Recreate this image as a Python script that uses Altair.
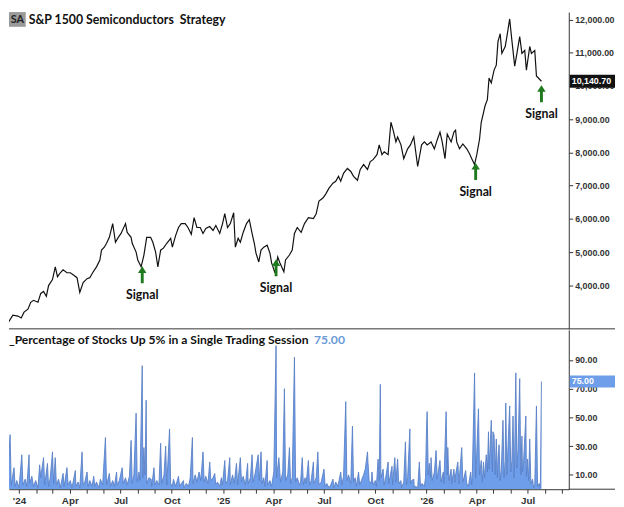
import altair as alt
import pandas as pd

# ---------------- data (days counted from 2024-01-01) ----------------
price_day = [-32, -23, -11, -2, 4, 9, 16, 21, 26, 34, 39, 44, 49, 53, 60, 65, 69, 74, 79, 86,
             92, 97, 104, 109, 115, 122, 127, 132, 139, 145, 148, 153, 157, 162, 168, 173, 178, 183, 191, 194,
             201, 203, 210, 213, 219, 224, 229, 236, 240, 245, 249, 254, 259, 265, 272, 275, 281, 286, 291, 298,
             303, 309, 314, 319, 325, 330, 335, 342, 348, 353, 360, 365, 369, 374, 379, 385, 388, 393, 397, 402,
             408, 413, 418, 422, 425, 430, 434, 439, 445, 450, 453, 459, 464, 468, 475, 478, 485, 490, 494, 499,
             506, 512, 519, 528, 533, 538, 545, 550, 556, 563, 568, 573, 577, 582, 589, 595, 600, 607, 612, 618,
             625, 630, 635, 642, 646, 651, 655, 662, 667, 671, 676, 679, 685, 690, 697, 702, 708, 715, 722, 727,
             732, 739, 745, 750, 755, 759, 764, 768, 775, 780, 783, 785, 790, 796, 803, 808, 812, 817, 821, 826,
             829, 836, 840, 843, 847, 852, 856, 859, 863, 866, 872, 875, 880, 884, 889, 893, 898, 902, 907, 910,
             916, 919, 925, 928, 937]
price_val = [2843, 2784, 3109, 3080, 3021, 3198, 3287, 3494, 3553, 3494, 3760, 3819, 3672, 3997, 4175, 4559, 4263, 4382, 4470, 4382,
             4382, 4322, 4234, 3790, 4086, 4204, 4234, 4382, 4559, 4766, 5062, 5151, 5269, 5447, 5861, 5299, 5447, 5565, 5861, 5595,
             5447, 5269, 5003, 4766, 4559, 4915, 5447, 5447, 5299, 5003, 4559, 5062, 5121, 5269, 5417, 5151, 5506, 5743, 5861, 5861,
             5743, 5536, 6039, 5743, 5743, 5565, 5713, 5772, 5654, 5802, 5565, 5861, 6157, 5743, 5861, 6186, 5151, 5417, 5299, 5595,
             5861, 5979, 5565, 5269, 4973, 4707, 5062, 5151, 5210, 4973, 4677, 4382, 4855, 4677, 4411, 4766, 4915, 5062, 5565, 5743,
             5595, 5861, 6039, 6009, 6157, 6541, 6630, 6748, 6926, 7074, 7133, 7281, 7133, 7370, 7518, 7429, 7281, 7163, 7488, 7636,
             7488, 7725, 7784, 7932, 8228, 7932, 8021, 7932, 8908, 8672, 8317, 8464, 8228, 7814, 8109, 8228, 8464, 7577, 8228, 8317,
             8228, 8317, 8109, 8376, 8612, 8317, 7814, 8553, 8317, 8612, 8672, 8317, 8109, 8257, 8109, 7961, 7814, 7636, 7932, 8405,
             8908, 9411, 9589, 10240, 10092, 10476, 10624, 11334, 11571, 10979, 11186, 11482, 12015, 11364, 10595, 10979, 11482, 10979, 11068, 10476,
             11186, 10979, 11068, 10299, 10140.70]

pct_day = [-32, -28, -25, -21, -16, -14, -9, -7, -4, 0, 5, 7, 11, 14, 18, 19, 23, 26, 30, 34,
           37, 39, 41, 44, 46, 48, 51, 53, 56, 60, 62, 65, 67, 71, 74, 76, 79, 81, 86, 88,
           92, 95, 101, 102, 106, 109, 113, 115, 118, 122, 124, 127, 131, 134, 136, 139, 143, 146, 150, 155,
           157, 162, 164, 168, 171, 175, 176, 180, 185, 187, 191, 194, 198, 201, 203, 206, 210, 212, 215, 217,
           221, 222, 224, 226, 228, 229, 233, 237, 238, 242, 244, 247, 251, 254, 256, 260, 263, 265, 270, 272,
           275, 277, 281, 286, 288, 291, 295, 296, 300, 304, 307, 311, 312, 316, 319, 323, 326, 330, 332, 335,
           339, 342, 344, 348, 351, 353, 356, 360, 363, 365, 369, 371, 374, 378, 379, 383, 386, 390, 392, 393,
           397, 399, 402, 406, 410, 411, 415, 418, 420, 423, 429, 431, 434, 436, 439, 441, 445, 446, 450, 453,
           457, 461, 462, 466, 469, 473, 476, 478, 482, 485, 487, 490, 494, 496, 499, 503, 505, 508, 510, 513,
           515, 519, 521, 524, 528, 529, 533, 536, 538, 542, 547, 549, 552, 556, 559, 563, 565, 568, 572, 574,
           577, 579, 582, 586, 588, 591, 595, 598, 600, 603, 605, 609, 611, 614, 618, 621, 625, 626, 628, 632,
           633, 635, 639, 641, 644, 646, 648, 649, 653, 655, 658, 662, 663, 665, 669, 670, 674, 676, 679, 681,
           685, 686, 690, 693, 695, 697, 701, 702, 704, 708, 709, 711, 715, 718, 720, 723, 727, 729, 731, 732,
           734, 736, 738, 739, 741, 745, 748, 750, 753, 755, 757, 761, 762, 766, 768, 769, 771, 775, 776, 780,
           782, 783, 787, 789, 790, 794, 796, 798, 801, 803, 806, 810, 812, 813, 817, 819, 820, 824, 826, 829,
           831, 833, 835, 838, 840, 842, 843, 845, 847, 849, 850, 852, 854, 856, 858, 859, 861, 863, 865, 868,
           870, 872, 873, 875, 877, 880, 882, 884, 886, 888, 889, 891, 893, 895, 898, 900, 902, 903, 905, 909,
           910, 912, 914, 916, 918, 921, 923, 925, 928, 930, 933, 935, 937]
pct_val = [3, 8, 2, 5, 38, 3, 15, 2, 6, 1, 24, 3, 7, 2, 24, 4, 9, 2, 6, 1,
           17, 8, 14, 22, 3, 9, 18, 2, 8, 26, 4, 22, 3, 7, 1, 5, 11, 2, 15, 3,
           6, 1, 13, 2, 5, 1, 26, 3, 5, 12, 2, 6, 2, 9, 2, 5, 1, 7, 3, 36,
           3, 11, 2, 6, 2, 12, 3, 6, 15, 4, 8, 3, 9, 34, 4, 10, 53, 5, 12, 6,
           86, 8, 29, 10, 62, 4, 8, 7, 2, 15, 3, 6, 3, 32, 4, 10, 30, 3, 42, 4,
           2, 7, 2, 9, 2, 4, 6, 1, 4, 2, 8, 36, 4, 10, 5, 12, 6, 26, 5, 9,
           4, 19, 6, 8, 11, 3, 5, 2, 8, 3, 20, 4, 6, 22, 3, 10, 4, 18, 3, 7,
           22, 5, 9, 3, 18, 4, 8, 24, 5, 10, 24, 6, 26, 4, 8, 2, 20, 3, 6, 2,
           12, 100, 8, 22, 5, 12, 70, 6, 10, 29, 4, 8, 92, 5, 8, 3, 5, 22, 3, 8,
           4, 20, 3, 6, 19, 4, 8, 26, 3, 5, 14, 2, 4, 1, 3, 7, 1, 5, 2, 6,
           12, 3, 9, 61, 6, 10, 4, 44, 5, 8, 2, 12, 3, 6, 10, 14, 26, 18, 6, 4,
           12, 3, 6, 2, 21, 6, 73, 8, 14, 3, 9, 19, 4, 8, 16, 3, 22, 5, 21, 4,
           6, 1, 5, 33, 3, 8, 42, 4, 6, 7, 1, 2, 1, 19, 2, 4, 2, 8, 44, 54,
           10, 18, 8, 22, 6, 12, 27, 7, 15, 20, 5, 12, 4, 54, 10, 29, 6, 14, 4, 14,
           5, 10, 19, 4, 9, 29, 5, 8, 13, 4, 2, 12, 3, 10, 81, 8, 16, 56, 10, 20,
           5, 19, 8, 24, 12, 40, 14, 30, 48, 12, 40, 38, 10, 35, 8, 20, 31, 6, 14, 48,
           8, 20, 60, 10, 30, 58, 12, 20, 51, 8, 25, 81, 15, 28, 77, 10, 37, 12, 20, 51,
           9, 21, 6, 35, 4, 7, 1, 3, 58, 2, 4, 1, 75]

signal_day = [221, 461, 819, 937]
signal_level = [4322, 4530, 7429, 9766]

title_main = "S&P 1500 Semiconductors\u00a0 Strategy"
title_badge = "SA"
title_lower = "_Percentage of Stocks Up 5% in a Single Trading Session"

price_ticks = [4000, 5000, 6000, 7000, 8000, 9000, 10000, 11000, 12000]
pct_ticks = [10, 30, 50, 70, 90]

# ---------------- frames ----------------
BASE = pd.Timestamp("2024-01-01")


def to_dates(days):
    return [BASE + pd.Timedelta(days=d) for d in days]


price = pd.DataFrame({"date": to_dates(price_day), "value": price_val})
pct = pd.DataFrame({"date": to_dates(pct_day), "value": pct_val})
signals = pd.DataFrame({"date": to_dates(signal_day), "level": signal_level, "label": "Signal"})
last_price = price.tail(1)
last_pct = pct.tail(1)

W = 569
H1 = 322
H2 = 162
AX_FONT = "Liberation Sans"
TXT_FONT = "Lato"

x_scale = alt.Scale(domain=[alt.DateTime(year=2023, month=12, date=14),
                            alt.DateTime(year=2026, month=9, date=13)])
y1_scale = alt.Scale(domain=[2695, 12222], nice=False, zero=False)
y2_scale = alt.Scale(domain=[0, 111], nice=False, zero=False)

months = [alt.DateTime(year=y, month=m, date=1)
          for y in (2024, 2025, 2026) for m in range(1, 13)
          if not (y == 2026 and m > 9)]

x_hidden = alt.X("date:T", scale=x_scale, axis=None)


def y1(field):
    return alt.Y(field, scale=y1_scale, title=None)


price_axis = alt.Axis(orient="right", values=price_ticks, format=",.2f", title=None,
                      labelFont=AX_FONT, labelFontSize=9, labelFontWeight="bold", labelColor="#333",
                      tickColor="#333", tickSize=4, labelPadding=2, domainColor="#333",
                      grid=False)

line = alt.Chart(price).mark_line(color="#111", strokeWidth=1.2, clip=True).encode(
    x=x_hidden,
    y=alt.Y("value:Q", scale=y1_scale, axis=price_axis, title=None),
)

arrows = alt.Chart(signals).mark_point(
    shape="M-0.17,1L0.17,1L0.17,-0.22L0.5,-0.22L0,-1L-0.5,-0.22L-0.17,-0.22Z",
    filled=True, size=300, color="#1f7a1f", opacity=1, strokeWidth=0,
).encode(x=x_hidden, y=y1("level:Q"))

signal_text = alt.Chart(signals).mark_text(
    font=TXT_FONT, fontWeight="bold", fontSize=12.5, color="#111", dy=21,
).encode(x=x_hidden, y=y1("level:Q"), text="label:N")

price_box = alt.Chart(last_price).transform_calculate(
    lo="datum.value - 195", hi="datum.value + 195"
).mark_rect(color="#111").encode(
    x=alt.value(W + 1), x2=alt.value(W + 47), y=y1("lo:Q"), y2="hi:Q")

price_label = alt.Chart(last_price).mark_text(
    font=AX_FONT, fontSize=9, fontWeight="bold", color="white", align="left", dx=0,
).encode(x=alt.value(W + 3), y=y1("value:Q"), text=alt.Text("value:Q", format=",.2f"))

badge_box = alt.Chart(pd.DataFrame({"t": [title_badge]})).mark_rect(color="#9a9a9a").encode(
    x=alt.value(0), x2=alt.value(17), y=alt.value(0), y2=alt.value(15))
badge_text = alt.Chart(pd.DataFrame({"t": [title_badge]})).mark_text(
    font=TXT_FONT, fontWeight="bold", fontSize=11, color="#222", align="center", baseline="middle",
).encode(x=alt.value(8.5), y=alt.value(8), text="t:N")
main_title = alt.Chart(pd.DataFrame({"t": [title_main]})).mark_text(
    font=TXT_FONT, fontWeight="bold", fontSize=12.5, color="#111", align="left", baseline="middle",
).encode(x=alt.value(20), y=alt.value(8), text="t:N")

separator = alt.Chart(pd.DataFrame({"t": [0]})).mark_rule(color="#333", strokeWidth=1).encode(
    x=alt.value(0), x2=alt.value(W + 47), y=alt.value(H1))

top = alt.layer(line, separator, badge_box, badge_text, main_title, arrows, signal_text,
                price_box, price_label).properties(width=W, height=H1)

# ---------------- bottom panel ----------------
label_expr = ("month(datum.value) == 0 ? \"'\" + timeFormat(datum.value, '%y') : "
              "(month(datum.value) % 3 == 0 ? timeFormat(datum.value, '%b') : '')")
x_axis = alt.Axis(values=months, labelExpr=label_expr, title=None, labelFont=AX_FONT,
                  labelFontSize=10, labelFontWeight="bold", labelColor="#333", tickColor="#333",
                  tickSize=4, labelPadding=3, domainColor="#333", grid=False, labelOverlap=False)
pct_axis = alt.Axis(orient="right", values=pct_ticks, format=".2f", title=None,
                    labelFont=AX_FONT, labelFontSize=9, labelFontWeight="bold", labelColor="#333",
                    tickColor="#333", tickSize=4, labelPadding=2, domainColor="#333", grid=False)


def y2(field):
    return alt.Y(field, scale=y2_scale, title=None)


area = alt.Chart(pct).mark_area(
    color="#6e9de9", opacity=1, clip=True,
    line={"color": "#5a80c6", "strokeWidth": 0.9},
).encode(
    x=alt.X("date:T", scale=x_scale, axis=x_axis),
    y=alt.Y("value:Q", scale=y2_scale, axis=pct_axis, title=None),
)

lower_title = alt.Chart(pd.DataFrame({"t": [title_lower]})).mark_text(
    font=TXT_FONT, fontWeight="bold", fontSize=12.3, color="#111", align="left", baseline="middle",
).encode(x=alt.value(0), y=alt.value(10), text="t:N")

lower_value = alt.Chart(last_pct).mark_text(
    font=TXT_FONT, fontWeight="bold", fontSize=12.3, color="#6b9ad8", align="left", baseline="middle",
).encode(x=alt.value(310), y=alt.value(10), text=alt.Text("value:Q", format=".2f"))

pct_box = alt.Chart(last_pct).transform_calculate(
    lo="datum.value - 4.2", hi="datum.value + 4.2"
).mark_rect(color="#6e9de9").encode(
    x=alt.value(W + 1), x2=alt.value(W + 47), y=y2("lo:Q"), y2="hi:Q")

pct_label = alt.Chart(last_pct).mark_text(
    font=AX_FONT, fontSize=9, fontWeight="bold", color="white", align="left",
).encode(x=alt.value(W + 3), y=y2("value:Q"), text=alt.Text("value:Q", format=".2f"))

bottom_ext = alt.Chart(pd.DataFrame({"t": [0]})).mark_rule(color="#333", strokeWidth=1).encode(
    x=alt.value(W), x2=alt.value(W + 47), y=alt.value(H2))

bottom = alt.layer(area, lower_title, lower_value, pct_box, pct_label, bottom_ext).properties(
    width=W, height=H2)

chart = alt.vconcat(top, bottom, spacing=0).properties(
    padding={"left": 0, "top": 0, "right": 0, "bottom": 0},
    background="white",
).configure_view(stroke=None)

chart.save("out.html", embed_options={"renderer": "svg", "actions": False})
